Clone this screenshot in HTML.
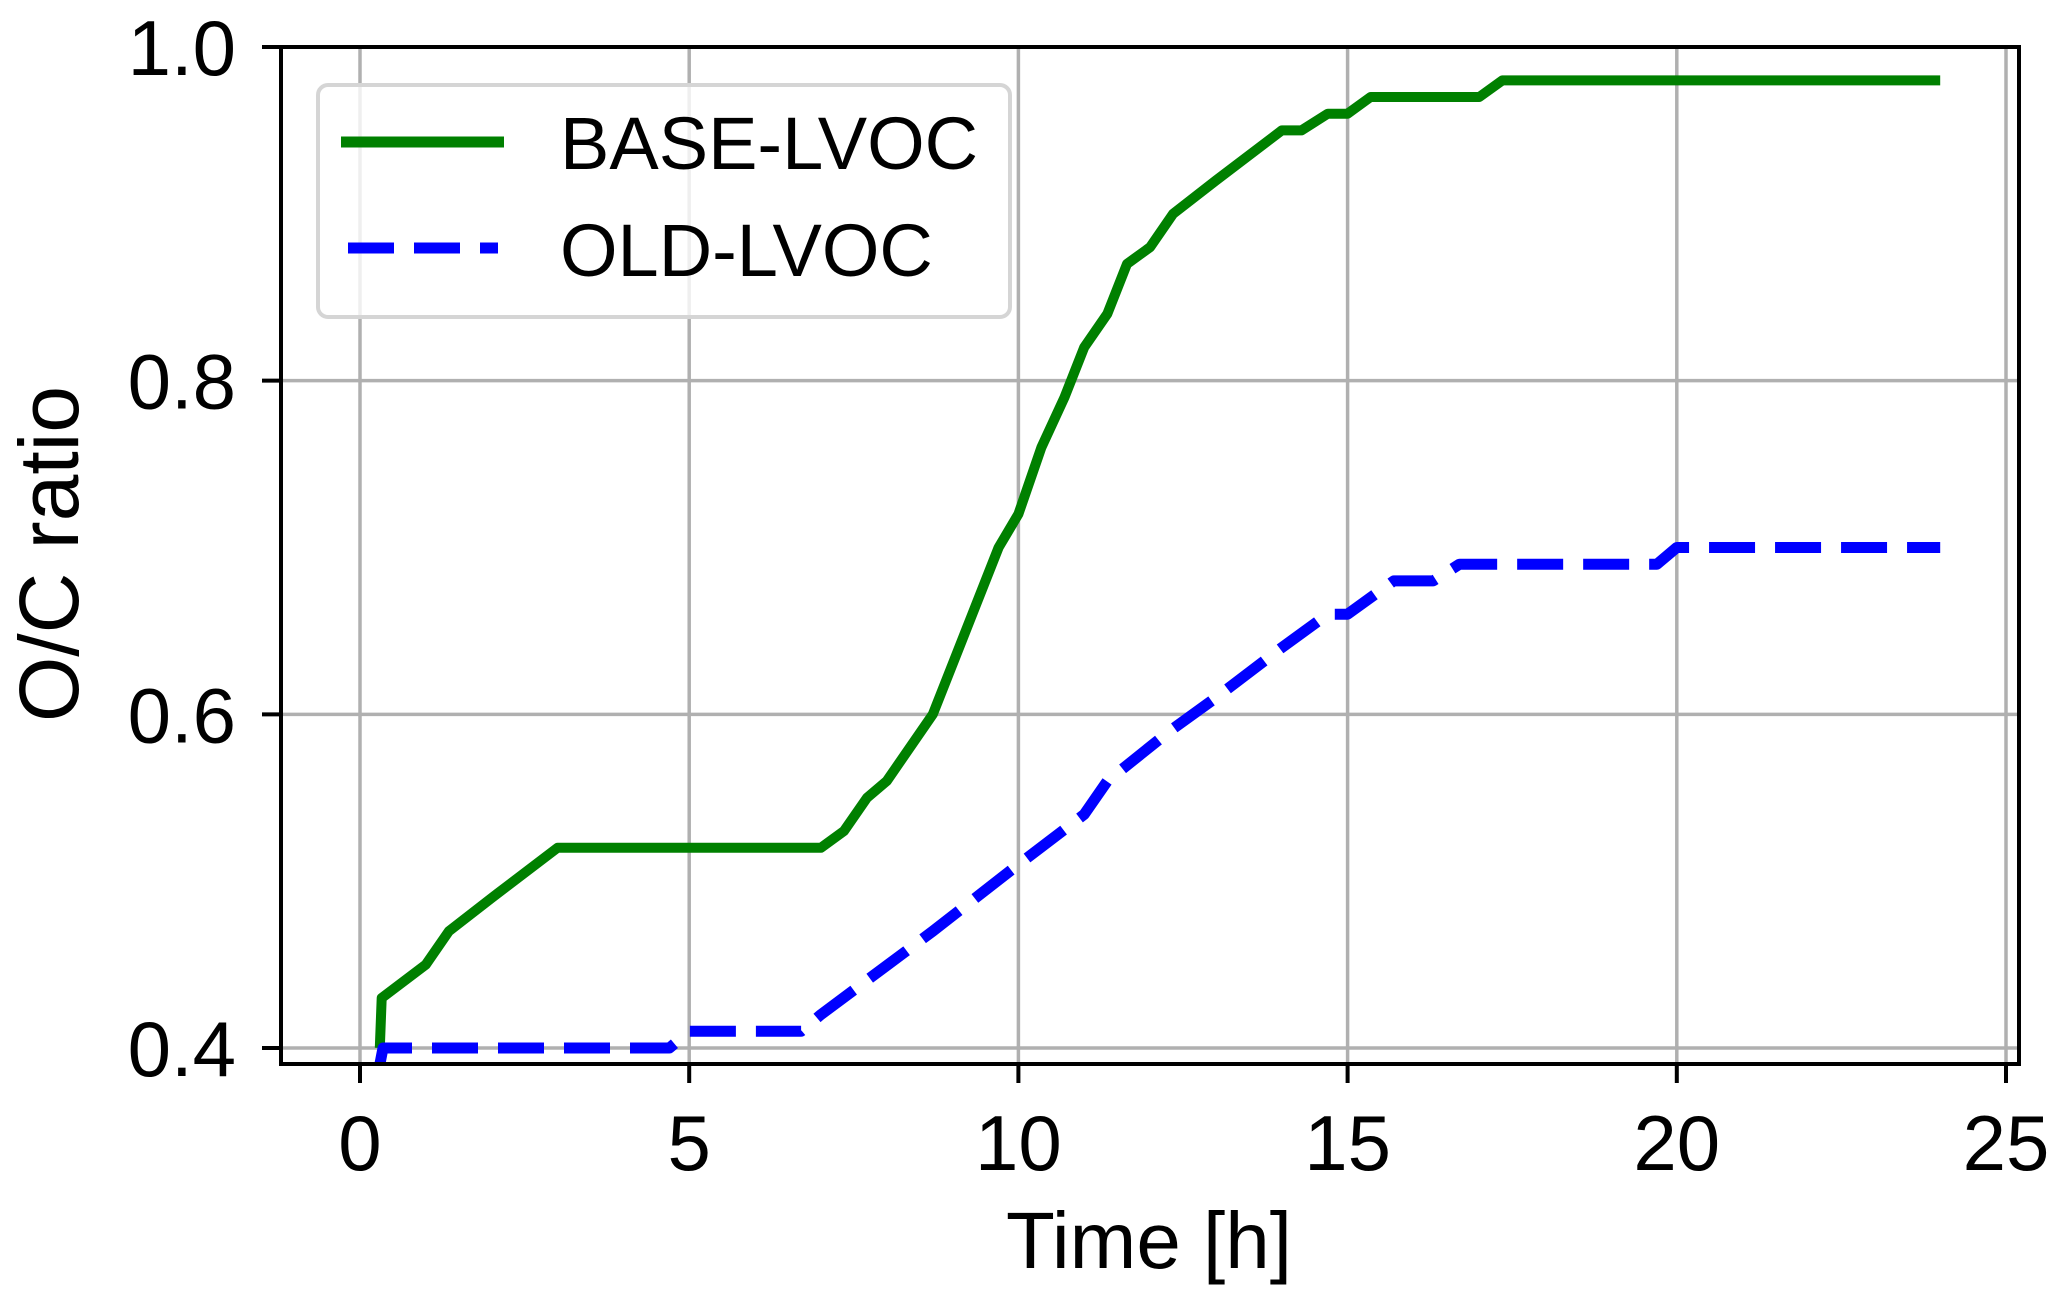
<!DOCTYPE html>
<html><head><meta charset="utf-8"><style>
html,body{margin:0;padding:0;background:#fff}
svg{display:block}
text{font-family:"Liberation Sans",Arial,sans-serif;fill:#000}
</style></head><body>
<svg id="chart" width="2067" height="1306" viewBox="0 0 2067 1306">
<g id="grid"></g>
<g id="series"></g>
<g id="axes"></g>
<text x="1149" y="1268" font-size="80" text-anchor="middle">Time [h]</text>
<text transform="translate(78,554) rotate(-90)" font-size="84" text-anchor="middle">O/C ratio</text>
<g>
<rect x="318" y="85" width="692" height="232" rx="10" fill="#fff" fill-opacity="0.8" stroke="#d5d5d5" stroke-width="4"/>
<line x1="341" y1="142" x2="504" y2="142" stroke="#008000" stroke-width="11"/>
<text x="560" y="169" font-size="74">BASE-LVOC</text>
<line x1="348" y1="248" x2="498" y2="248" stroke="#0000ff" stroke-width="11" stroke-dasharray="46 20"/>
<text x="560" y="276" font-size="74">OLD-LVOC</text>
</g>
</svg>
<script>
const xTicks = [0, 5, 10, 15, 20, 25];
const yTicks = [0.4, 0.6, 0.8, 1.0];
const yTickLabels = ["0.4", "0.6", "0.8", "1.0"];
const baseX = [0.3,0.33,1.0,1.35,2.0,3.0,7.0,7.35,7.7,8.0,8.7,9.3,9.7,10.0,10.35,10.7,11.0,11.35,11.65,12.0,12.35,13.0,14.0,14.3,14.7,15.0,15.35,17.0,17.35,24.0];
const baseY = [0.40,0.43,0.45,0.47,0.49,0.52,0.52,0.53,0.55,0.56,0.60,0.66,0.70,0.72,0.76,0.79,0.82,0.84,0.87,0.88,0.90,0.92,0.95,0.95,0.96,0.96,0.97,0.97,0.98,0.98];
const oldX = [0.3,0.35,4.7,5.0,6.7,7.0,8.7,10.0,11.0,11.35,12.3,13.0,14.0,14.7,15.0,15.7,16.3,16.7,19.7,20.0,24.0];
const oldY = [0.39,0.40,0.40,0.41,0.41,0.42,0.47,0.51,0.54,0.56,0.59,0.61,0.64,0.66,0.66,0.68,0.68,0.69,0.69,0.70,0.70];

const L=281,R=2019,T=47,B=1064;
const sx = v => 360 + v*65.84;
const sy = v => 1048 - (v-0.4)*(1001/0.6);
const NS='http://www.w3.org/2000/svg';
function mk(tag, attrs, parent){const e=document.createElementNS(NS,tag);for(const k in attrs)e.setAttribute(k,attrs[k]);parent.appendChild(e);return e;}
const grid=document.getElementById('grid'),axes=document.getElementById('axes'),series=document.getElementById('series');
xTicks.forEach(t=>{
  const g=mk('line',{x1:sx(t),x2:sx(t),y1:T,y2:B,stroke:'#b0b0b0','stroke-width':3.5},grid);
  
  
  const tk=mk('line',{x1:sx(t),x2:sx(t),y1:B,y2:B+19,stroke:'#000','stroke-width':4},axes);
  
  
  const lb=mk('text',{x:sx(t),y:1170,'font-size':78,'text-anchor':'middle'},axes);
  lb.textContent=String(t);
  
  
});
yTicks.forEach((t,i)=>{
  const g=mk('line',{x1:L,x2:R,y1:sy(t),y2:sy(t),stroke:'#b0b0b0','stroke-width':3.5},grid);
  
  
  const tk=mk('line',{x1:L-19,x2:L,y1:sy(t),y2:sy(t),stroke:'#000','stroke-width':4},axes);
  
  
  const lb=mk('text',{x:236,y:sy(t)+28,'font-size':78,'text-anchor':'end'},axes);
  lb.textContent=yTickLabels[i];
  
  
});
const frame=mk('rect',{x:L,y:T,width:R-L,height:B-T,fill:'none',stroke:'#000','stroke-width':4},axes);


const pts=(xs,ys)=>xs.map((x,i)=>sx(x).toFixed(1)+','+sy(ys[i]).toFixed(1)).join(' ');
const old=mk('polyline',{points:pts(oldX,oldY),fill:'none',stroke:'#0000ff','stroke-width':11,'stroke-dasharray':'46 20','stroke-linejoin':'round'},series);


const base=mk('polyline',{points:pts(baseX,baseY),fill:'none',stroke:'#008000','stroke-width':10,'stroke-linejoin':'round'},series);


series.appendChild(old);
</script>
</body></html>
